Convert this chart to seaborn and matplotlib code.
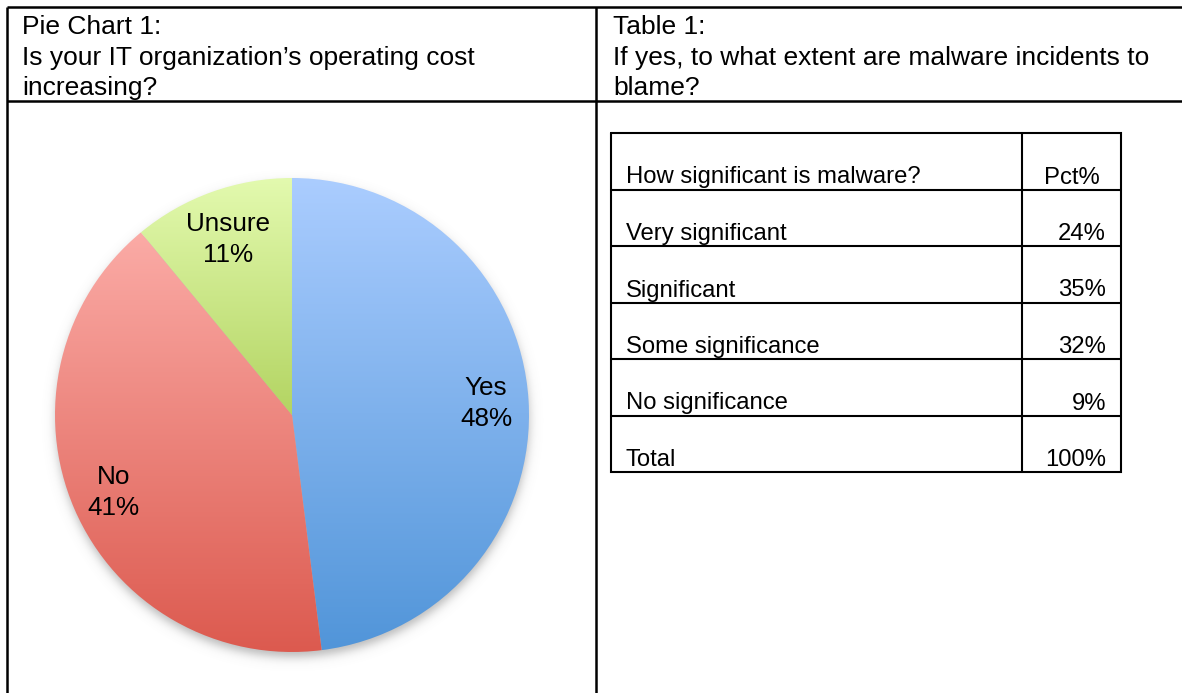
import numpy as np
import matplotlib
matplotlib.use("Agg")
import matplotlib.pyplot as plt
from matplotlib.colors import to_rgb
import seaborn as sns

# ---- data ----
pie_labels = ["Yes", "No", "Unsure"]
pie_values = [48, 41, 11]
table_header = ["How significant is malware?", "Pct%"]
table_rows = ["Very significant", "Significant", "Some significance", "No significance", "Total"]
table_pcts = [24, 35, 32, 9, 100]
left_title = ["Pie Chart 1:", "Is your IT organization\u2019s operating cost", "increasing?"]
right_title = ["Table 1:", "If yes, to what extent are malware incidents to", "blame?"]

# vertical gradient (top, bottom) for each slice
slice_grads = [("#abcdff", "#5195d9"), ("#fbaba6", "#dc5a4f"), ("#e3faaf", "#b3d462")]

sns.set_theme(style="white")
plt.rcParams["font.family"] = ["Liberation Sans", "DejaVu Sans"]
plt.rcParams["text.color"] = "black"

W, H = 1182, 693
fig = plt.figure(figsize=(W / 100, H / 100), dpi=100)
fig.patch.set_facecolor("white")

# ---- page frame in pixel coordinates ----
ax = fig.add_axes([0, 0, 1, 1])
ax.set_xlim(0, W)
ax.set_ylim(H, 0)
ax.axis("off")

lw = 1.8
ax.plot([7, W], [7, 7], color="black", lw=lw, solid_capstyle="butt")
ax.plot([7, W], [101, 101], color="black", lw=lw, solid_capstyle="butt")
ax.plot([7, 7], [7, H], color="black", lw=lw, solid_capstyle="butt")
ax.plot([596, 596], [7, H], color="black", lw=lw, solid_capstyle="butt")

title_fs = 19.0
for i, line in enumerate(left_title):
    ax.text(22, 34 + 30.5 * i, line, fontsize=title_fs, ha="left", va="baseline")
for i, line in enumerate(right_title):
    ax.text(613, 34 + 30.5 * i, line, fontsize=title_fs, ha="left", va="baseline")

# ---- table ----
t_left, t_div, t_right = 611, 1022, 1121
t_top, t_bot = 133, 472
n_rows = len(table_rows) + 1
row_h = (t_bot - t_top) / n_rows
tlw = 1.5
ax.plot([t_left, t_right, t_right, t_left, t_left], [t_top, t_top, t_bot, t_bot, t_top],
        color="black", lw=tlw, solid_joinstyle="miter")
ax.plot([t_div, t_div], [t_top, t_bot], color="black", lw=tlw)
for r in range(1, n_rows):
    y = t_top + r * row_h
    ax.plot([t_left, t_right], [y, y], color="black", lw=tlw)

table_fs = 17.2
ax.text(626, t_top + row_h - 6, table_header[0], fontsize=table_fs, ha="left", va="baseline")
ax.text((t_div + t_right) / 2, t_top + row_h - 6, table_header[1], fontsize=table_fs,
        ha="center", va="baseline")
for r, (name, pct) in enumerate(zip(table_rows, table_pcts), start=2):
    yb = t_top + r * row_h - 6
    ax.text(626, yb, name, fontsize=table_fs, ha="left", va="baseline")
    ax.text(1106, yb, f"{pct}%", fontsize=table_fs, ha="right", va="baseline")

# ---- pie ----
cx, cy, R = 292, 415, 237
L = 1.12
side = 2 * L * R
axp = fig.add_axes([(cx - L * R) / W, (H - cy - L * R) / H, side / W, side / H])
axp.axis("off")
axp.patch.set_alpha(0)

# soft drop shadow underneath the pie
n = 400
g = np.linspace(-L, L, n)
gx, gy = np.meshgrid(g, g)
d = np.hypot(gx, gy + 6 / R)
shadow_alpha = 0.5 / (1 + np.exp((d - 1.0) / (3.0 / R)))
shadow = np.zeros((n, n, 4))
shadow[..., :3] = 0.45
shadow[..., 3] = shadow_alpha
axp.imshow(shadow, extent=(-L, L, -L, L), origin="lower", zorder=0, interpolation="bilinear")

wedges, _ = axp.pie(pie_values, radius=1, startangle=90, counterclock=False,
                    wedgeprops=dict(linewidth=0, edgecolor="none"))

for wdg, (c_top, c_bot) in zip(wedges, slice_grads):
    wdg.set_facecolor("none")
    ext = wdg.get_path().get_extents()
    t = np.linspace(0, 1, 256)[:, None]
    top, bot = np.array(to_rgb(c_top)), np.array(to_rgb(c_bot))
    grad = (top * (1 - t) + bot * t)[:, None, :]
    im = axp.imshow(grad, extent=(ext.x0, ext.x1, ext.y0, ext.y1), origin="upper",
                    aspect="auto", zorder=1, interpolation="bilinear")
    im.set_clip_path(wdg)

# slice labels: Yes/No sit along the mid-angle, Unsure is nudged toward the top
label_fs = 18.8
total = sum(pie_values)
start = 90.0
positions = []
for v in pie_values:
    sweep = 360.0 * v / total
    mid = np.deg2rad(start - sweep / 2)
    positions.append((0.82 * np.cos(mid), 0.82 * np.sin(mid)))
    start -= sweep
positions[2] = (0.79 * np.cos(np.deg2rad(110)), 0.79 * np.sin(np.deg2rad(110)))

for (px, py), name, v in zip(positions, pie_labels, pie_values):
    axp.text(px, py + 8 / R, name, fontsize=label_fs, ha="center", va="baseline", zorder=3)
    axp.text(px, py - 23 / R, f"{v}%", fontsize=label_fs, ha="center", va="baseline", zorder=3)

axp.set_xlim(-L, L)
axp.set_ylim(-L, L)
axp.set_aspect("auto")

fig.savefig("out.png", dpi=100, facecolor="white")
